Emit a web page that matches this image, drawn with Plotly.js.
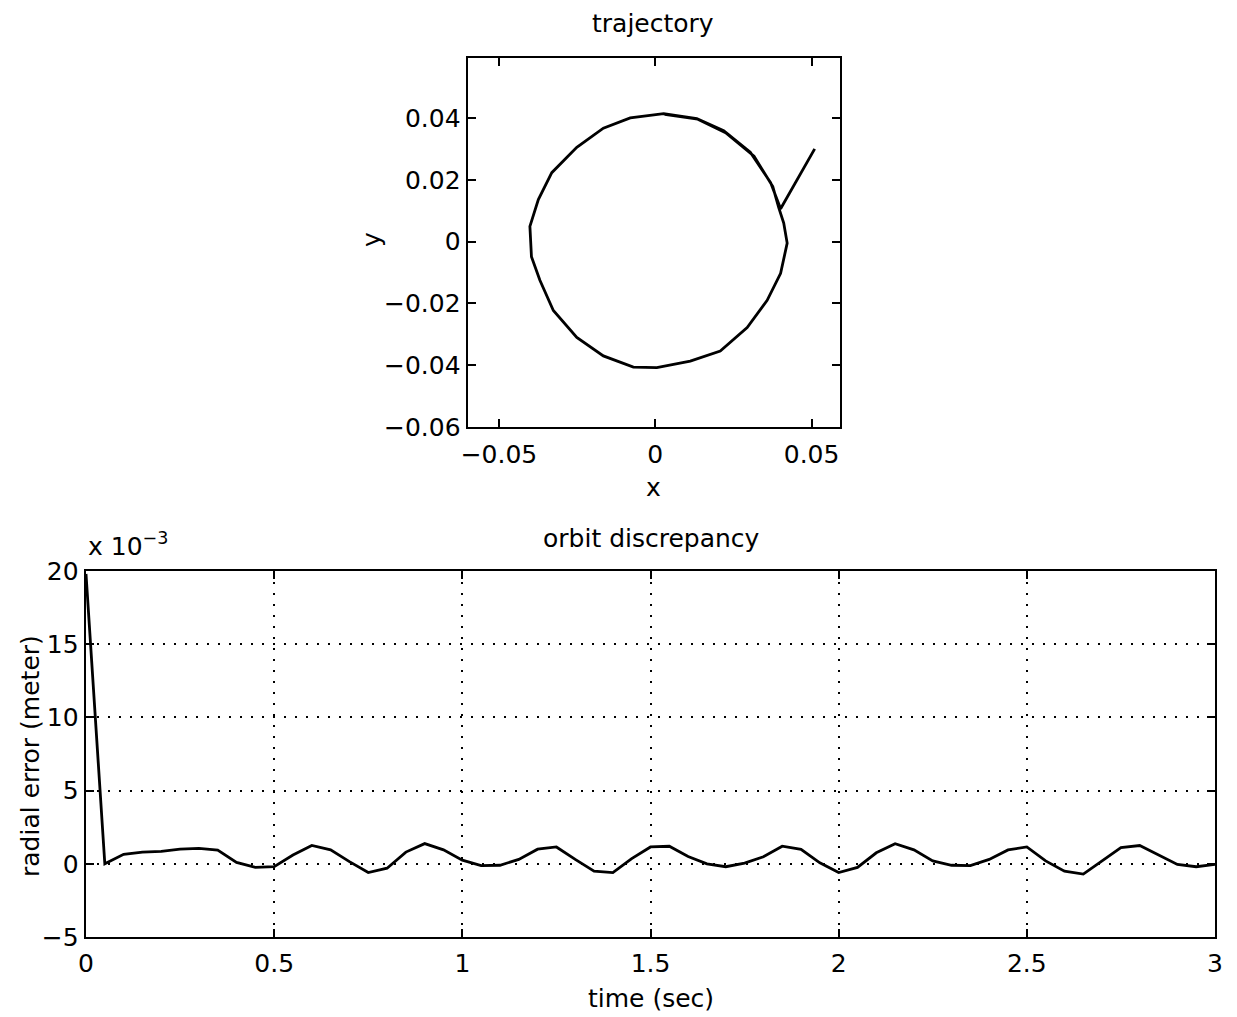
<!DOCTYPE html>
<html>
<head>
<meta charset="utf-8">
<script src="https://cdn.plot.ly/plotly-3.0.1.min.js"></script>
<style>
  html, body { margin: 0; padding: 0; background: #ffffff; }
  #chart { width: 1237px; height: 1017px; }
</style>
</head>
<body>
<div id="chart"></div>
<script>
// Planar trajectory (metres): approach line, then the orbit loop with a short second pass
const trajX = [0.0510, 0.0401, 0.0369, 0.0304, 0.0219, 0.0133, 0.0027, -0.0080, -0.0166, -0.0251,
               -0.0331, -0.0374, -0.0401, -0.0396, -0.0369, -0.0326, -0.0251, -0.0166, -0.0070, 0.0005,
               0.0112, 0.0208, 0.0294, 0.0358, 0.0401, 0.0422, 0.0411, 0.0395, 0.0376, 0.0316,
               0.0225, 0.0136, 0.0030];
const trajY = [0.0300, 0.0106, 0.0191, 0.0289, 0.0359, 0.0398, 0.0414, 0.0400, 0.0367, 0.0305,
               0.0223, 0.0136, 0.0049, -0.0049, -0.0125, -0.0223, -0.0310, -0.0370, -0.0406, -0.0408,
               -0.0387, -0.0354, -0.0278, -0.0190, -0.0103, -0.0005, 0.0060, 0.0110, 0.0178, 0.0276,
               0.0352, 0.0396, 0.0412];

// Radial error over time, in units of 1e-3 m
const timeSec = [0, 0.05, 0.10, 0.15, 0.20, 0.25, 0.30, 0.35, 0.40, 0.45,
                 0.50, 0.55, 0.60, 0.65, 0.70, 0.75, 0.80, 0.85, 0.90, 0.95,
                 1.00, 1.05, 1.10, 1.15, 1.20, 1.25, 1.30, 1.35, 1.40, 1.45,
                 1.50, 1.55, 1.60, 1.65, 1.70, 1.75, 1.80, 1.85, 1.90, 1.95,
                 2.00, 2.05, 2.10, 2.15, 2.20, 2.25, 2.30, 2.35, 2.40, 2.45,
                 2.50, 2.55, 2.60, 2.65, 2.70, 2.75, 2.80, 2.85, 2.90, 2.95, 3.00];
const radialErr = [19.8, 0.0, 0.65, 0.80, 0.85, 1.00, 1.05, 0.93, 0.10, -0.25,
                   -0.20, 0.60, 1.25, 0.95, 0.15, -0.60, -0.30, 0.80, 1.38, 0.95,
                   0.25, -0.12, -0.10, 0.30, 1.00, 1.15, 0.30, -0.50, -0.60, 0.35,
                   1.15, 1.20, 0.50, 0.00, -0.20, 0.05, 0.48, 1.20, 0.98, 0.07,
                   -0.60, -0.25, 0.75, 1.37, 0.95, 0.20, -0.10, -0.12, 0.30, 0.95,
                   1.15, 0.20, -0.50, -0.70, 0.20, 1.10, 1.25, 0.60, -0.04, -0.20, -0.04];

const trajXTicks = [-0.05, 0, 0.05];
const trajXTickText = ['\u22120.05', '0', '0.05'];
const trajYTicks = [-0.06, -0.04, -0.02, 0, 0.02, 0.04];
const trajYTickText = ['\u22120.06', '\u22120.04', '\u22120.02', '0', '0.02', '0.04'];
const timeTicks = [0, 0.5, 1, 1.5, 2, 2.5, 3];
const timeTickText = ['0', '0.5', '1', '1.5', '2', '2.5', '3'];
const errTicks = [-5, 0, 5, 10, 15, 20];
const errTickText = ['\u22125', '0', '5', '10', '15', '20'];

const W = 1237, H = 1017;
const FONT = 'DejaVu Sans, Verdana, sans-serif';
const TXT = 25;
const px = v => v / W;
const py = v => 1 - v / H;

const axisCommon = {
  showline: true, linecolor: '#000', linewidth: 2.4, mirror: 'allticks',
  ticks: 'inside', ticklen: 8, tickwidth: 2, tickcolor: '#000',
  zeroline: false, showgrid: false,
  tickfont: { family: FONT, size: TXT, color: '#000' },
  fixedrange: true
};

const traces = [
  {
    x: trajX, y: trajY, xaxis: 'x', yaxis: 'y',
    mode: 'lines', line: { color: '#000', width: 2.8 }, hoverinfo: 'skip'
  },
  {
    x: timeSec, y: radialErr, xaxis: 'x2', yaxis: 'y2',
    mode: 'lines', line: { color: '#000', width: 2.8 }, hoverinfo: 'skip'
  }
];

const gridDots = { showgrid: true, gridcolor: '#000', gridwidth: 2, griddash: '2px,9px' };

function label(text, x, y, opts) {
  return Object.assign({
    text: text, x: px(x), y: py(y), xref: 'paper', yref: 'paper',
    xanchor: 'center', yanchor: 'middle', showarrow: false,
    font: { family: FONT, size: TXT, color: '#000' }
  }, opts || {});
}

const layout = {
  width: W, height: H,
  margin: { l: 0, r: 0, t: 0, b: 0 },
  paper_bgcolor: '#fff', plot_bgcolor: '#fff',
  showlegend: false,
  xaxis: Object.assign({}, axisCommon, {
    domain: [px(468), px(840)], anchor: 'y', ticklabelstandoff: 4,
    range: [-0.0599, 0.0591], tickvals: trajXTicks, ticktext: trajXTickText
  }),
  yaxis: Object.assign({}, axisCommon, {
    domain: [py(427), py(58)], anchor: 'x',
    range: [-0.0600, 0.0594], tickvals: trajYTicks, ticktext: trajYTickText
  }),
  xaxis2: Object.assign({}, axisCommon, gridDots, {
    domain: [px(86), px(1215)], anchor: 'y2', ticklabelstandoff: 3,
    range: [0, 3], tickvals: timeTicks, ticktext: timeTickText
  }),
  yaxis2: Object.assign({}, axisCommon, gridDots, {
    domain: [py(937), py(571)], anchor: 'x2',
    range: [-5, 20], tickvals: errTicks, ticktext: errTickText
  }),
  annotations: [
    label('trajectory', 653, 23),
    label('x', 653, 487),
    label('y', 371, 240, { textangle: -90 }),
    label('orbit discrepancy', 651, 538),
    label('x 10<sup>\u22123</sup>', 86, 563, { xanchor: 'left', yanchor: 'bottom' }),
    label('time (sec)', 651, 998),
    label('radial error (meter)', 30, 756, { textangle: -90 })
  ]
};

Plotly.newPlot('chart', traces, layout, { staticPlot: true, displayModeBar: false });
</script>
</body>
</html>
